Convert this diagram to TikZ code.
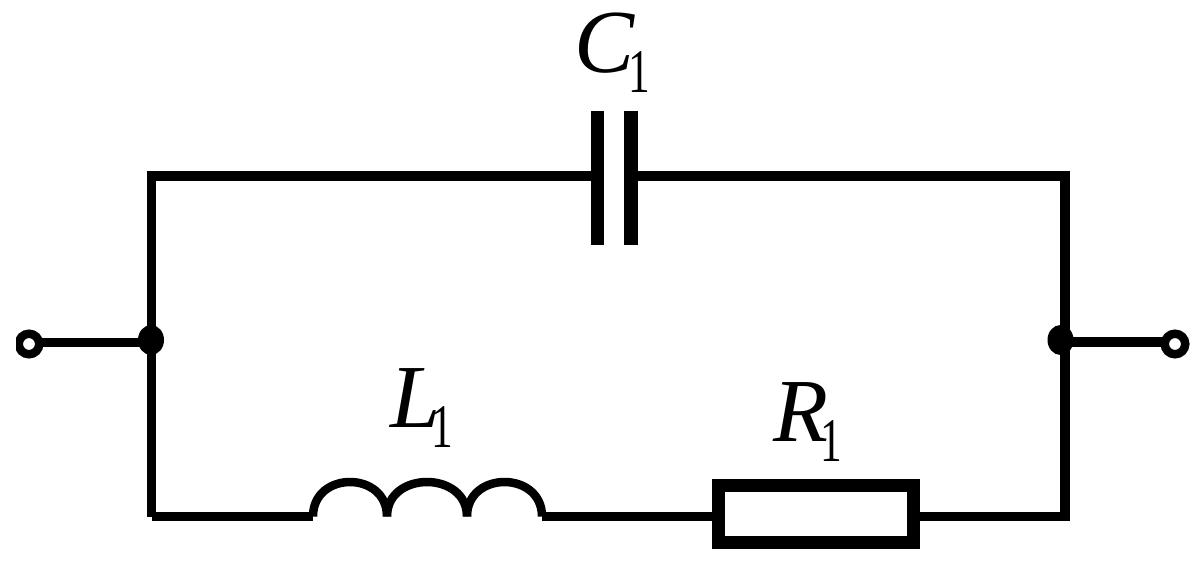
\documentclass[tikz,border=0pt]{standalone}
\usepackage{fontspec}
\setmainfont{Liberation Serif}
\usetikzlibrary{shapes.geometric,calc}
\newcommand{\complabel}[3]{{\fontsize{90pt}{90pt}\selectfont\itshape #1}\kern#3pt\raisebox{-20pt}{\scalebox{0.7}[1]{\fontsize{62pt}{62pt}\selectfont #2}}}
\tikzset{
  wire/.style={draw=black,line width=9.5pt,line cap=butt},
  plate/.style={fill=black,draw=none,minimum width=13.5pt,minimum height=134pt,inner sep=0pt},
  res/.style={draw=black,line width=13pt,fill=white,minimum width=195pt,minimum height=57pt,inner sep=0pt},
  dot/.style={ellipse,fill=black,draw=none,minimum width=26pt,minimum height=30pt,inner sep=0pt},
  term/.style={circle,fill=white,draw=black,line width=8.5pt,minimum size=20.5pt,inner sep=0pt},
  lab/.style={anchor=base west,inner sep=0pt,outer sep=0pt},
  coil/.style={draw=black,line width=8.5pt,line cap=butt}
}
\begin{document}
\begin{tikzpicture}[x=1pt,y=-1pt]
\useasboundingbox (0,0) rectangle (1201,570);
\coordinate (tl) at (151.5,176);
\coordinate (tlo) at (146.5,176);
\coordinate (tr) at (1065,176);
\coordinate (bl) at (151.5,516.5);
\coordinate (br) at (1065,516.5);
\coordinate (la) at (313,516.5);
\coordinate (lb) at (387,516.5);
\coordinate (lc) at (467,516.5);
\coordinate (ld) at (542,516.5);
\node[dot] (jl) at (151,340) {};
\node[dot] (jr) at (1060.5,340) {};
\node[plate] (c1) at (597.5,178) {};
\node[plate,minimum width=14pt] (c2) at (631,178) {};
\node[res] (r1) at (816,514) {};
\node[term] (tA) at (29,344) {};
\node[term] (tB) at (1175,344) {};
\draw[wire] (tlo) -- (tlo -| c1.center);
\draw[wire,line cap=rect] (tr -| c2.center) -- (tr) -- (br) -- (br -| r1.east);
\draw[wire] (tl) -- (bl);
\draw[wire] (bl) -- (la);
\draw[wire] (br -| r1.west) -- (ld);
\coordinate (tAw) at ($(tA.east)+(-4,-1.5)$);
\coordinate (tBw) at ($(tB.west)+(4,-2)$);
\draw[wire] (tAw) -- (tAw -| jl.center);
\draw[wire] (tBw -| jr.center) -- (tBw);
\fill[white] (0,320) rectangle (16,370);
\draw[coil] (la) .. controls ($(la)+(0,-46)$) and ($(lb)+(0,-46)$) .. (lb);
\draw[coil] (lb) .. controls ($(lb)+(0,-46)$) and ($(lc)+(0,-46)$) .. (lc);
\draw[coil] (lc) .. controls ($(lc)+(0,-46)$) and ($(ld)+(0,-46)$) .. (ld);
\node[lab] (lC) at (574,72) {\complabel{C}{1}{-6}};
\node[lab] (lL) at (390,427) {\complabel{L}{1}{-9}};
\node[lab] (lR) at (773,441) {\complabel{R}{1}{-7}};
\end{tikzpicture}
\end{document}
